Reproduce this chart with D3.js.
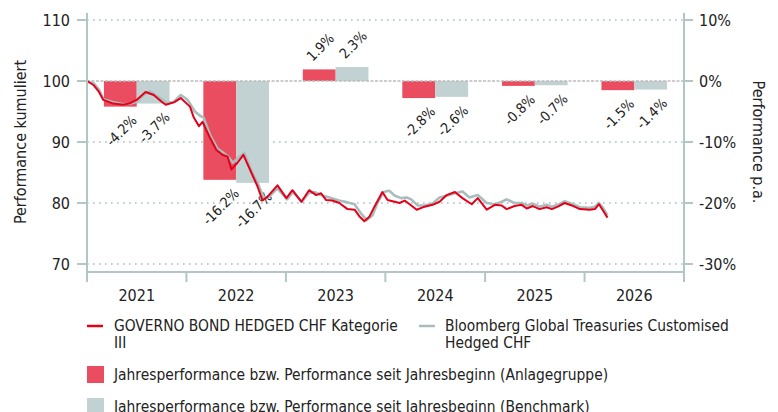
<!DOCTYPE html>
<html>
<head>
<meta charset="utf-8">
<script src="https://cdn.jsdelivr.net/npm/d3@7/dist/d3.min.js"></script>
<style>
body { margin: 0; background: #fff; }
text { font-family: "DejaVu Sans Condensed", "DejaVu Sans", sans-serif; fill: #222; }
</style>
</head>
<body>
<svg id="chart" width="778" height="412"></svg>
<script>
// yearly performance (%)
var years = [2021, 2022, 2023, 2024, 2025, 2026];
var fundYear = [-4.2, -16.2, 1.9, -2.8, -0.8, -1.5];
var benchYear = [-3.7, -16.7, 2.3, -2.6, -0.7, -1.4];

// cumulated performance, fund
var fundDates = ["2021-01-01","2021-01-26","2021-02-14","2021-03-02","2021-04-08","2021-05-15","2021-06-10","2021-07-02","2021-08-04","2021-09-03","2021-10-02","2021-10-17","2021-11-16","2021-12-11","2022-01-14","2022-01-28","2022-02-16","2022-03-01","2022-03-26","2022-04-21","2022-05-13","2022-06-01","2022-06-15","2022-07-07","2022-07-29","2022-08-27","2022-09-19","2022-10-07","2022-10-25","2022-12-01","2023-01-03","2023-01-25","2023-02-27","2023-03-27","2023-04-22","2023-05-10","2023-05-28","2023-06-20","2023-07-16","2023-08-15","2023-09-10","2023-09-28","2023-10-16","2023-11-04","2023-11-22","2023-12-21","2024-01-09","2024-02-04","2024-02-22","2024-03-12","2024-03-30","2024-04-25","2024-05-24","2024-06-22","2024-07-18","2024-08-13","2024-09-12","2024-10-10","2024-11-13","2024-12-05","2025-01-07","2025-02-06","2025-03-03","2025-03-21","2025-04-19","2025-05-15","2025-06-03","2025-06-25","2025-07-20","2025-08-15","2025-09-03","2025-09-25","2025-10-20","2025-11-15","2025-12-15","2026-01-20","2026-02-08","2026-02-23","2026-03-08","2026-03-26"];
var fundValues = [100, 99.3, 98.2, 96.9, 96.3, 96.1, 96.4, 96.9, 98.2, 97.7, 96.6, 96.1, 96.5, 97.2, 95.8, 94.0, 92.6, 93.3, 90.9, 88.7, 87.9, 87.6, 85.5, 86.6, 87.9, 85.0, 82.7, 80.4, 81.0, 82.9, 80.8, 82.1, 80.2, 82.1, 81.3, 81.6, 80.5, 80.4, 80.0, 79.0, 78.9, 77.8, 77.0, 77.8, 79.4, 81.8, 80.5, 80.2, 80.0, 80.4, 79.8, 78.9, 79.4, 79.7, 80.2, 81.3, 81.8, 80.8, 79.8, 80.8, 78.9, 79.7, 79.6, 79.0, 79.5, 79.7, 79.1, 79.5, 79.0, 79.3, 79.0, 79.4, 80.0, 79.6, 79.0, 78.9, 79.0, 79.8, 78.9, 77.6];

// cumulated performance, benchmark
var benchDates = ["2021-01-01","2021-01-26","2021-02-14","2021-03-02","2021-04-08","2021-05-15","2021-06-10","2021-07-02","2021-08-04","2021-08-20","2021-09-03","2021-10-02","2021-10-20","2021-11-16","2021-12-11","2022-01-03","2022-01-14","2022-02-01","2022-02-20","2022-03-05","2022-03-30","2022-04-25","2022-05-15","2022-06-05","2022-06-20","2022-07-10","2022-08-01","2022-08-30","2022-09-22","2022-10-10","2022-10-28","2022-12-01","2023-01-05","2023-01-27","2023-03-01","2023-03-25","2023-04-15","2023-05-15","2023-06-10","2023-07-15","2023-08-15","2023-09-10","2023-10-05","2023-10-25","2023-11-15","2023-12-01","2023-12-25","2024-01-15","2024-02-05","2024-02-28","2024-03-20","2024-04-05","2024-04-28","2024-05-24","2024-06-22","2024-07-18","2024-08-13","2024-09-12","2024-10-10","2024-11-05","2024-12-05","2025-01-07","2025-02-06","2025-03-03","2025-03-21","2025-04-19","2025-05-15","2025-06-03","2025-06-25","2025-07-20","2025-08-15","2025-09-03","2025-09-25","2025-10-20","2025-11-15","2025-12-15","2026-01-20","2026-02-08","2026-02-23","2026-03-08","2026-03-26"];
var benchValues = [100, 99.6, 98.6, 97.0, 96.5, 96.2, 96.3, 96.6, 98.0, 98.3, 97.9, 97.0, 96.4, 96.6, 97.7, 97.0, 96.3, 95.0, 94.3, 94.0, 91.0, 88.9, 88.3, 87.5, 86.6, 87.4, 88.2, 85.0, 83.0, 81.0, 80.9, 82.4, 80.6, 81.8, 80.2, 81.6, 81.8, 81.2, 80.9, 80.4, 80.1, 79.8, 78.2, 77.2, 78.0, 79.8, 81.8, 82.0, 81.2, 80.8, 80.9, 80.6, 79.6, 79.6, 79.9, 80.9, 81.2, 81.6, 81.9, 80.9, 81.3, 80.0, 79.8, 80.2, 80.6, 80.0, 80.0, 79.6, 79.9, 79.4, 79.7, 79.4, 79.7, 80.3, 79.9, 79.3, 79.2, 79.4, 80.0, 79.3, 78.0];

var leftTicks = [70, 80, 90, 100, 110];
var rightTicks = [-30, -20, -10, 0, 10];

var fundName = ["GOVERNO BOND HEDGED CHF Kategorie", "III"];
var benchName = ["Bloomberg Global Treasuries Customised", "Hedged CHF"];
var barLegend = ["Jahresperformance bzw. Performance seit Jahresbeginn (Anlagegruppe)",
                 "Jahresperformance bzw. Performance seit Jahresbeginn (Benchmark)"];

var red = "#e2001a", redBar = "#ea4d5f", grey = "#aabdbd", greyBar = "#c2d1d1", axisCol = "#b3c6c6";

var svg = d3.select("#chart");
var parse = d3.utcParse("%Y-%m-%d");

var plotL = 87, plotR = 684, plotT = 20, plotB = 264, axisY = 272;

var x = d3.scaleUtc()
	.domain([Date.UTC(2021, 0, 1), Date.UTC(2027, 0, 1)])
	.range([plotL, plotR]);
var y = d3.scaleLinear().domain([70, 110]).range([plotB, plotT]);
var yr = d3.scaleLinear().domain([-30, 10]).range([plotB, plotT]);

// grid
svg.append("g").selectAll("line")
	.data(leftTicks.filter(function (d) { return d !== 100; }))
	.enter().append("line")
	.attr("x1", plotL).attr("x2", plotR)
	.attr("y1", function (d) { return y(d); })
	.attr("y2", function (d) { return y(d); })
	.style("stroke", "#a9bdbd")
	.style("stroke-width", 1.6)
	.style("stroke-dasharray", "1.6,4.4");

// bars
var bars = svg.append("g");
years.forEach(function (yrNum, i) {
	var x0 = x(Date.UTC(yrNum, 0, 1)), x1 = x(Date.UTC(yrNum + 1, 0, 1));
	var c = (x0 + x1) / 2, w = (x1 - x0) * 0.33;
	[[fundYear[i], redBar, c - w], [benchYear[i], greyBar, c]].forEach(function (b) {
		bars.append("rect")
			.attr("x", b[2])
			.attr("width", w)
			.attr("y", Math.min(yr(0), yr(b[0])))
			.attr("height", Math.abs(yr(b[0]) - yr(0)))
			.style("fill", b[1]);
	});
});

// zero line
svg.append("line")
	.attr("x1", plotL).attr("x2", plotR)
	.attr("y1", yr(0)).attr("y2", yr(0))
	.style("stroke", "#bcbcbc")
	.style("stroke-width", 1.4)
	.style("stroke-dasharray", "3,1.5");

// bar labels
var labels = svg.append("g");
years.forEach(function (yrNum, i) {
	var x0 = x(Date.UTC(yrNum, 0, 1)), x1 = x(Date.UTC(yrNum + 1, 0, 1));
	var c = (x0 + x1) / 2, w = (x1 - x0) * 0.33;
	[[fundYear[i], c - w / 2], [benchYear[i], c + w / 2]].forEach(function (b) {
		var t = labels.append("text")
			.style("font-size", "14px")
			.attr("text-anchor", "middle")
			.attr("dominant-baseline", "central")
			.text(b[0].toFixed(1) + "%");
		var len = t.node().getComputedTextLength();
		var off = 11 + len * 0.354;
		var cx = b[1] + 1;
		var cy = b[0] < 0 ? yr(b[0]) + off : yr(b[0]) - off;
		t.attr("transform", "translate(" + cx + "," + cy + ") rotate(-45)");
	});
});

// lines
var line = d3.line()
	.x(function (d) { return x(d[0]); })
	.y(function (d) { return y(d[1]); });

svg.append("path")
	.datum(benchDates.map(function (d, i) { return [parse(d), benchValues[i]]; }))
	.attr("d", line)
	.style("fill", "none")
	.style("stroke", grey)
	.style("stroke-width", 2.6)
	.style("stroke-linejoin", "round");

svg.append("path")
	.datum(fundDates.map(function (d, i) { return [parse(d), fundValues[i]]; }))
	.attr("d", line)
	.style("fill", "none")
	.style("stroke", red)
	.style("stroke-width", 2)
	.style("stroke-linejoin", "round");

// axes
var axisG = svg.append("g").style("stroke", axisCol).style("stroke-width", 2);
axisG.append("line").attr("x1", plotL).attr("x2", plotL).attr("y1", 13).attr("y2", 282);
axisG.append("line").attr("x1", plotR).attr("x2", plotR).attr("y1", 13).attr("y2", 282);
axisG.append("line").attr("x1", plotL).attr("x2", plotR).attr("y1", axisY).attr("y2", axisY);

leftTicks.forEach(function (d) {
	axisG.append("line").attr("x1", plotL - 10).attr("x2", plotL).attr("y1", y(d)).attr("y2", y(d));
	svg.append("text").attr("x", 70).attr("y", y(d)).attr("text-anchor", "end")
		.attr("dominant-baseline", "central").style("font-size", "16px").text(d);
});
rightTicks.forEach(function (d) {
	axisG.append("line").attr("x1", plotR).attr("x2", plotR + 9).attr("y1", yr(d)).attr("y2", yr(d));
	svg.append("text").attr("x", 699).attr("y", yr(d)).attr("dominant-baseline", "central")
		.style("font-size", "16px").text(d + "%");
});
years.concat([2027]).forEach(function (yrNum) {
	var xx = x(Date.UTC(yrNum, 0, 1));
	axisG.append("line").attr("x1", xx).attr("x2", xx).attr("y1", axisY).attr("y2", 282);
});
years.forEach(function (yrNum) {
	var c = (x(Date.UTC(yrNum, 0, 1)) + x(Date.UTC(yrNum + 1, 0, 1))) / 2;
	svg.append("text").attr("x", c).attr("y", 295).attr("text-anchor", "middle")
		.attr("dominant-baseline", "central").style("font-size", "16px").text(yrNum);
});

svg.append("text")
	.attr("transform", "translate(20,142) rotate(-90)")
	.attr("text-anchor", "middle").attr("dominant-baseline", "central")
	.style("font-size", "16px").text("Performance kumuliert");
svg.append("text")
	.attr("transform", "translate(758,142) rotate(90)")
	.attr("text-anchor", "middle").attr("dominant-baseline", "central")
	.style("font-size", "16px").text("Performance p.a.");

// legend
var lg = svg.append("g").style("font-size", "15.4px");
lg.append("line").attr("x1", 87).attr("x2", 103).attr("y1", 326).attr("y2", 326)
	.style("stroke", red).style("stroke-width", 2.5);
fundName.forEach(function (s, i) {
	lg.append("text").attr("x", 114).attr("y", 326 + i * 17).attr("dominant-baseline", "central").text(s);
});
lg.append("line").attr("x1", 419).attr("x2", 435).attr("y1", 326).attr("y2", 326)
	.style("stroke", grey).style("stroke-width", 2.5);
benchName.forEach(function (s, i) {
	lg.append("text").attr("x", 445).attr("y", 326 + i * 17).attr("dominant-baseline", "central").text(s);
});
[[redBar, 366], [greyBar, 398]].forEach(function (d, i) {
	lg.append("rect").attr("x", 87).attr("y", d[1]).attr("width", 17).attr("height", 17).style("fill", d[0]);
	lg.append("text").attr("x", 114).attr("y", d[1] + 8.5).attr("dominant-baseline", "central").text(barLegend[i]);
});
</script>
</body>
</html>
